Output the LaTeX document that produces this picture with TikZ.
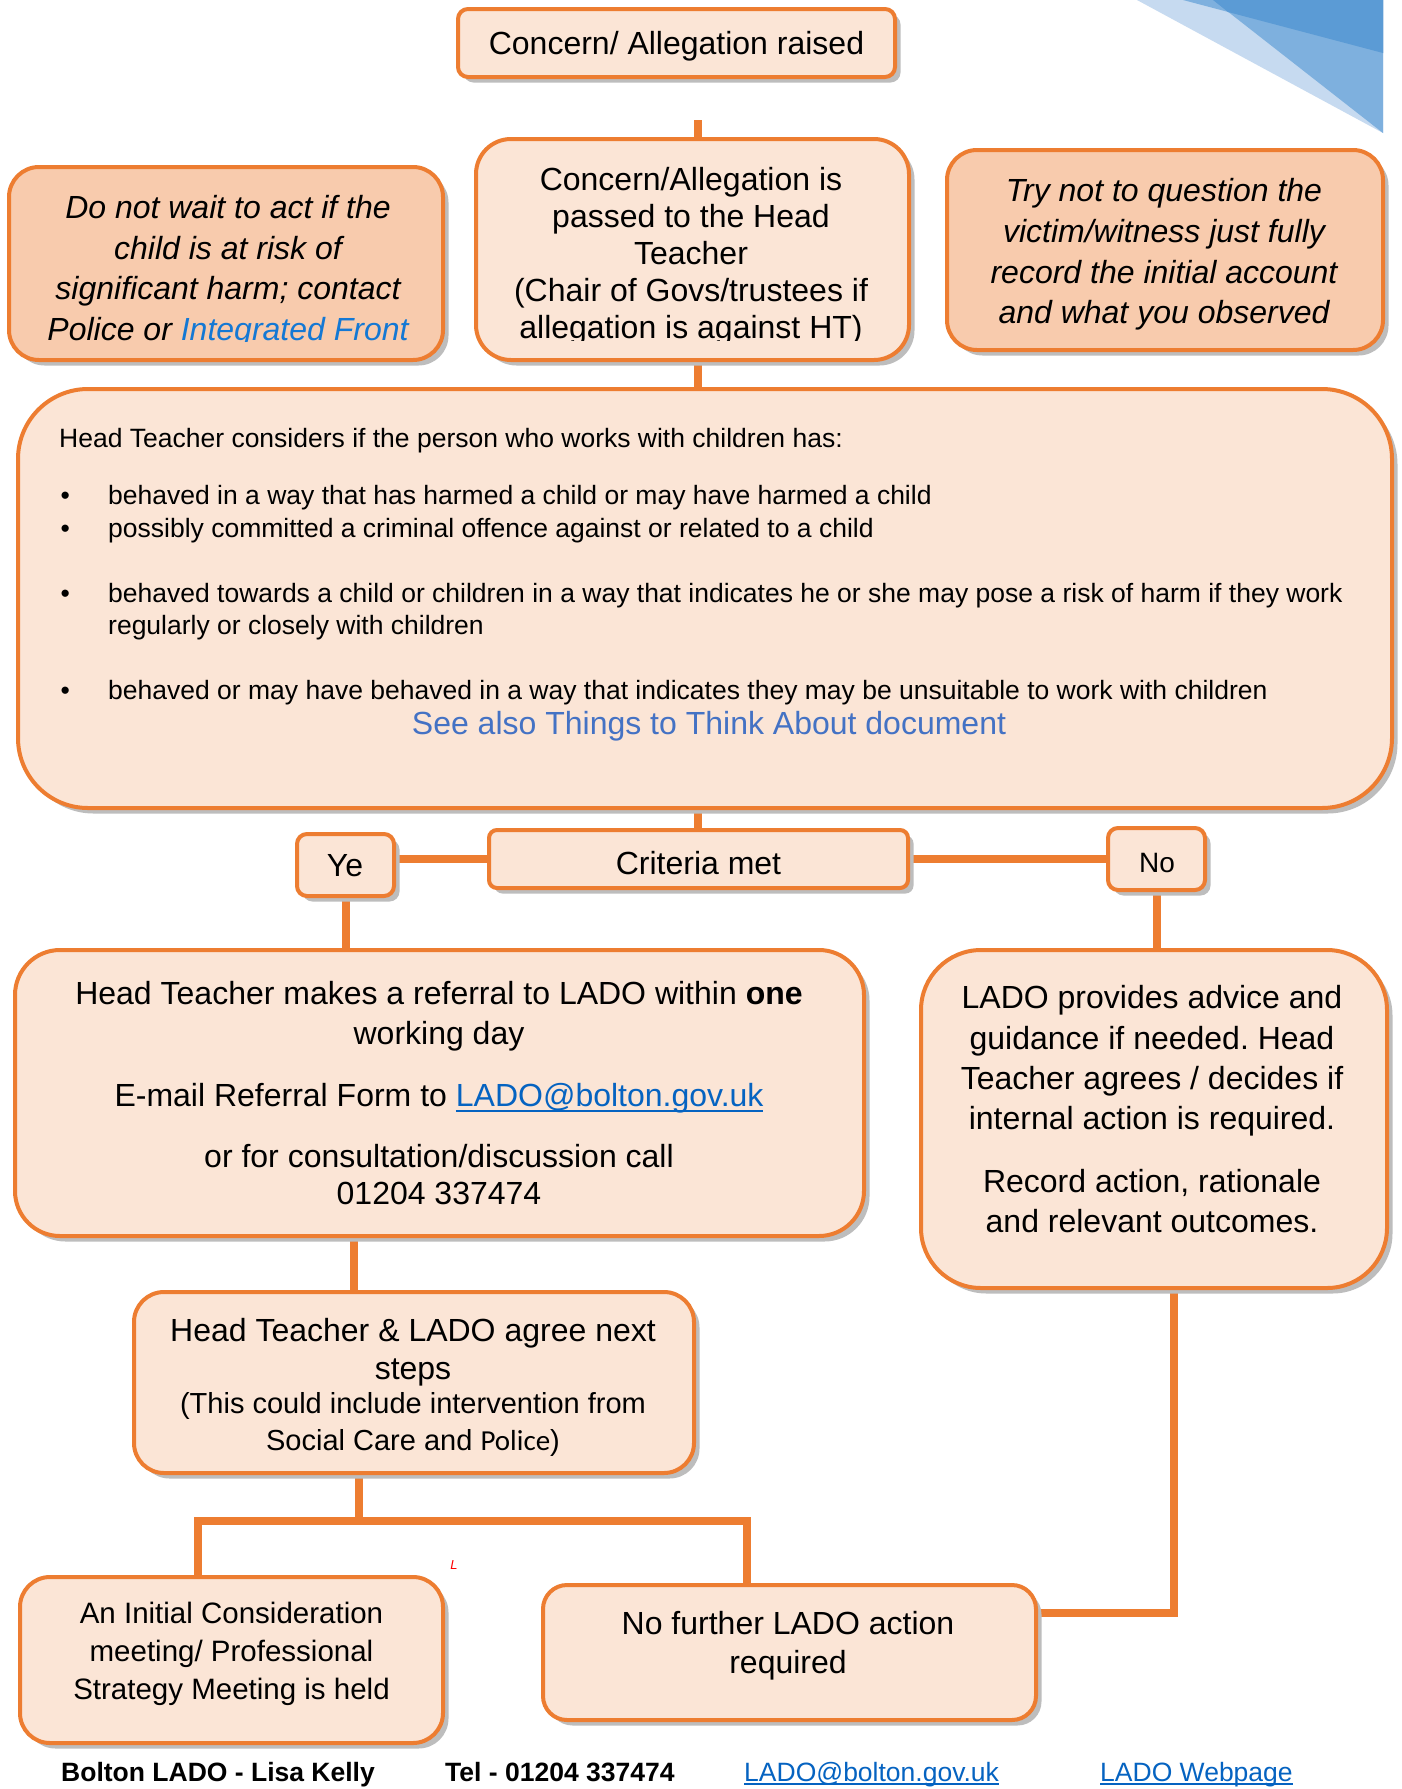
\documentclass[tikz,border=0pt]{standalone}
\usepackage{fontspec}
\setmainfont{Liberation Sans}
\newfontfamily\carl{Carlito}
\usetikzlibrary{calc}
\definecolor{orng}{HTML}{ED7D31}
\definecolor{peach}{HTML}{FBE5D6}
\definecolor{peachd}{HTML}{F8CBAD}
\definecolor{shad}{HTML}{BDBDBD}
\definecolor{linkblue}{HTML}{0563C1}
\definecolor{intblue}{HTML}{1478D4}
\definecolor{seeblue}{HTML}{4472C4}
\definecolor{trilight}{HTML}{C6DAF0}
\definecolor{trimed}{HTML}{7EB0DE}
\definecolor{tridark}{HTML}{5B9BD5}
\pgfdeclarelayer{back}
\pgfsetlayers{back,main}
\newsavebox\ulbox
\newcommand\ulink[2]{\sbox\ulbox{#2}\rlap{\rule[-#1]{\wd\ulbox}{2pt}}\usebox\ulbox}
\frenchspacing
\begin{document}
\begin{tikzpicture}[x=1pt,y=-1pt,
  box/.style={draw=orng, line width=4pt, fill=peach, inner sep=0pt,
    preaction={fill=shad, transform canvas={xshift=5.5pt,yshift=-5.5pt}}},
  dbox/.style={box, fill=peachd},
  conn/.style={draw=orng, line width=8pt, line cap=rect},
  tx/.style={inner sep=0pt, align=center, font=\fontsize{32}{37}\selectfont},
  bt/.style={inner sep=0pt, anchor=base west, font=\fontsize{26.5}{31}\selectfont},
  ft/.style={inner sep=0pt, anchor=base west, font=\fontsize{26.5}{31}\selectfont},
]
\useasboundingbox (0,0) rectangle (1401,1789);

% top box
\node[box, rounded corners=10pt, minimum width=437pt, minimum height=68pt] (b1) at (676.5,43) {};
\node[tx, anchor=base] (b1t) at (676.5,54.5) {Concern/ Allegation raised};

% second row
\node[box, rounded corners=35pt, minimum width=433pt, minimum height=221pt] (b2) at (692.5,249.5) {};
\begin{scope}
\clip (0,0) rectangle (1401,340);
\node[tx, anchor=north] (b2t) at (691,167.5) {Concern/Allegation is\\passed to the Head\\Teacher\\(Chair of Govs/trustees if\\allegation is against HT)};
\end{scope}

\node[dbox, rounded corners=30pt, minimum width=434pt, minimum height=193pt] (bl) at (226,263.5) {};
\begin{scope}
\clip (0,0) rectangle (1401,341);
\node[tx, anchor=north, font=\fontsize{32}{40.5}\selectfont\itshape] (blt) at (228,195.5) {Do not wait to act if the\\child is at risk of\\significant harm; contact\\Police or \textcolor{intblue}{Integrated Front}};
\end{scope}

\node[dbox, rounded corners=30pt, minimum width=436pt, minimum height=200pt] (br) at (1165,250) {};
\node[tx, anchor=north, font=\fontsize{32}{40.7}\selectfont\itshape] (brt) at (1164,178.5) {Try not to question the\\victim/witness just fully\\record the initial account\\and what you observed};

% big box
\node[box, rounded corners=70pt, minimum width=1374pt, minimum height=419pt] (big) at (705,598.5) {};
\node[bt] (h0) at (59,447.5) {Head Teacher considers if the person who works with children has:};
\node[bt] (i1) at (60.5,504.5) {\makebox[47.5pt][l]{\textbullet}behaved in a way that has harmed a child or may have harmed a child};
\node[bt] (i2) at (60.5,537.5) {\makebox[47.5pt][l]{\textbullet}possibly committed a criminal offence against or related to a child};
\node[bt] (i3) at (60.5,602.5) {\makebox[47.5pt][l]{\textbullet}behaved towards a child or children in a way that indicates he or she may pose a risk of harm if they work};
\node[bt] (i3b) at (108,634.5) {regularly or closely with children};
\node[bt] (i4) at (60.5,699.5) {\makebox[47.5pt][l]{\textbullet}behaved or may have behaved in a way that indicates they may be unsuitable to work with children};
\node[tx, anchor=base, text=seeblue] (see) at (709,734.5) {See also Things to Think About document};

% criteria row
\node[box, rounded corners=8pt, minimum width=419pt, minimum height=58pt] (crit) at (698.5,859) {};
\node[tx, anchor=base] (critt) at (698.5,874.5) {Criteria met};
\node[box, rounded corners=10pt, minimum width=97pt, minimum height=62pt] (ye) at (345.5,865) {};
\node[tx, anchor=base] (yet) at (345,876.5) {Ye};
\node[box, rounded corners=10pt, minimum width=97pt, minimum height=62pt] (no) at (1156.5,859) {};
\node[tx, anchor=base, font=\fontsize{28}{33}\selectfont] (not) at (1157,872) {No};

% referral
\node[box, rounded corners=45pt, minimum width=849pt, minimum height=286pt] (ref) at (439.5,1093) {};
\node[tx, anchor=north, font=\fontsize{32}{40}\selectfont] (reft) at (439,981.5) {Head Teacher makes a referral to LADO within \textbf{one}\\working day\\[22pt]E-mail Referral Form to \textcolor{linkblue}{\ulink{5pt}{LADO@bolton.gov.uk}}\\[21pt]or for consultation/discussion call\\[-3pt]01204 337474};

% LADO advice
\node[box, rounded corners=60pt, minimum width=466pt, minimum height=338pt] (lado) at (1154,1119) {};
\node[tx, anchor=north, font=\fontsize{32}{40.3}\selectfont] (ladot) at (1152,985.5) {LADO provides advice and\\guidance if needed. Head\\Teacher agrees / decides if\\internal action is required.\\[22pt]Record action, rationale\\and relevant outcomes.};

% agree
\node[box, rounded corners=30pt, minimum width=560pt, minimum height=181pt] (agree) at (414,1382.5) {};
\node[tx, anchor=north, font=\fontsize{32}{38}\selectfont] (agreeta) at (413,1318.5) {Head Teacher \& LADO agree next\\steps};
\node[tx, anchor=north, font=\fontsize{29}{37}\selectfont] (agreetb) at (413,1392.6) {(This could include intervention from\\Social Care and {\carl Police})};

% bottom boxes
\node[box, rounded corners=30pt, minimum width=423pt, minimum height=166pt] (init) at (231.5,1660) {};
\node[tx, anchor=north, font=\fontsize{29.5}{38}\selectfont] (initt) at (231.5,1602.4) {An Initial Consideration\\meeting/ Professional\\Strategy Meeting is held};
\node[box, rounded corners=24pt, minimum width=493pt, minimum height=135pt] (nof) at (789.5,1652.5) {};
\node[tx, anchor=north, font=\fontsize{32}{39}\selectfont] (noft) at (788,1611.5) {No further LADO action\\required};

\node[inner sep=0pt, text=red, font=\fontsize{13}{13}\selectfont\itshape] (mark) at (454,1565) {L};

% footer
\node[ft] (f1) at (61,1781) {\textbf{Bolton LADO - Lisa Kelly}};
\node[ft] (f2) at (445,1781) {\textbf{Tel - 01204 337474}};
\node[ft, text=linkblue] (f3) at (744,1781) {\ulink{4pt}{LADO@bolton.gov.uk}};
\node[ft, text=linkblue] (f4) at (1100,1781) {\ulink{4pt}{LADO Webpage}};

\begin{pgfonlayer}{back}
\fill[white] (0,0) rectangle (1401,1789);
\fill[trilight] (1137,0) -- (1383,133) -- (1383,0) -- cycle;
\fill[trimed] (1183,0) -- (1383,53) -- (1383,0) -- cycle;
\fill[trimed] (1213,0) -- (1383,133) -- (1383,0) -- cycle;
\fill[tridark] (1213,0) -- (1228,12) -- (1383,53) -- (1383,0) -- cycle;

\coordinate (cx) at (698,0);
\coordinate (stub) at (698,120);
\draw[conn, line cap=butt] (stub) -- (stub |- b2.north);
\draw[conn] (cx |- b2.south) -- (cx |- big.north);
\draw[conn] (cx |- big.south) -- (cx |- crit.north);
\draw[conn] (crit.west) -- (crit.west -| ye.east);
\draw[conn] (crit.east) -- (crit.east -| no.west);
\draw[conn] (ye.south) -- (ye.south |- ref.north);
\draw[conn] (no.south) -- (no.south |- lado.north);
\coordinate (rx) at (354,0);
\draw[conn] (rx |- ref.south) -- (rx |- agree.north);
\coordinate (bar) at (359,1521);
\coordinate (bl1) at (198,1521);
\coordinate (br1) at (747,1521);
\draw[conn] (bar |- agree.south) -- (bar);
\draw[conn] (bl1 |- init.north) -- (bl1) -- (br1) -- (br1 |- nof.north);
\coordinate (lk) at (1174,1613);
\draw[conn] (lk |- lado.south) -- (lk) -- (lk -| nof.east);
\end{pgfonlayer}
\end{tikzpicture}
\end{document}
